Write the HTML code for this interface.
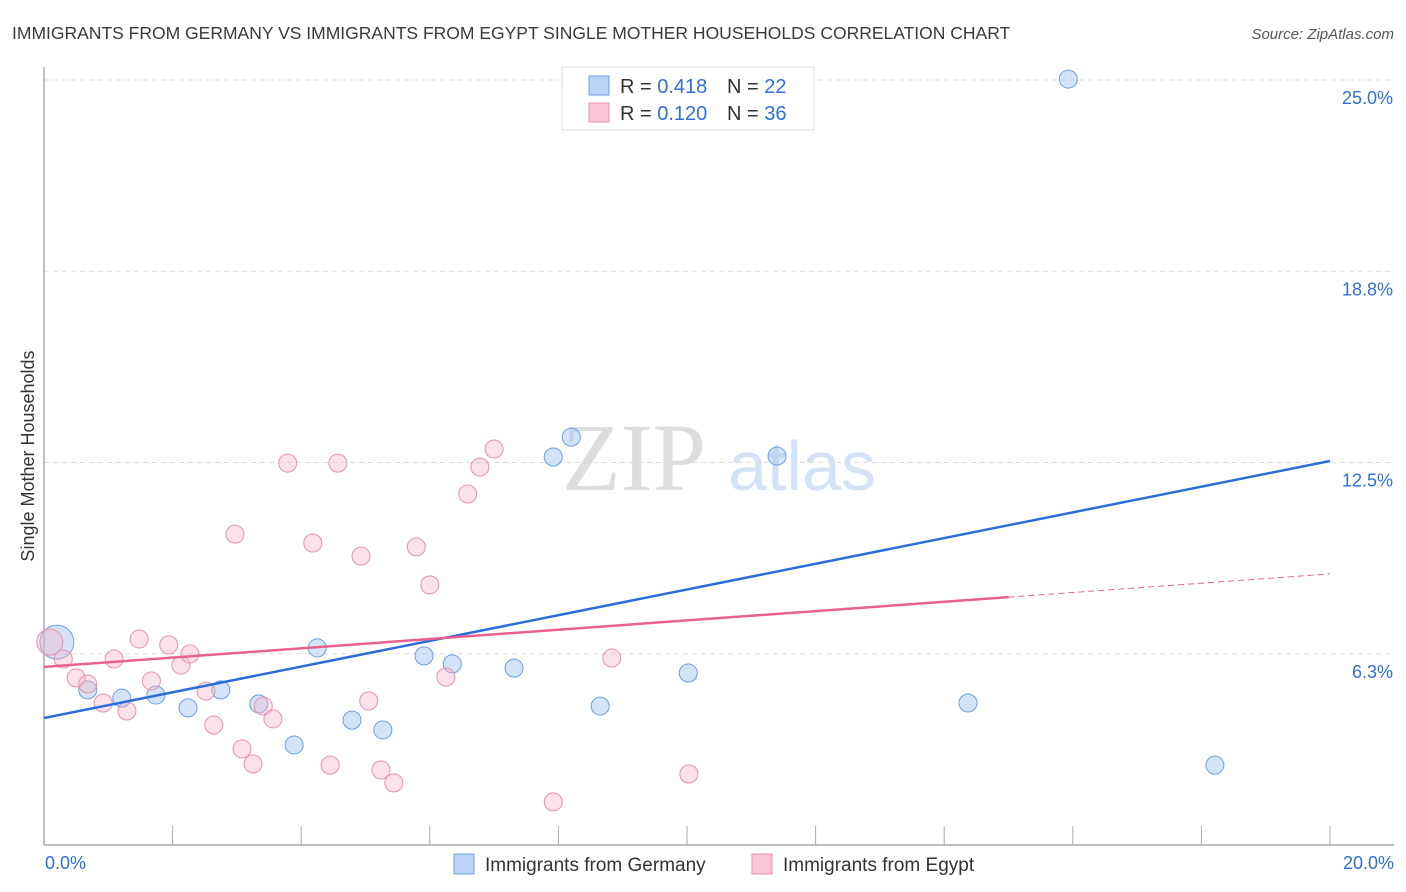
<!DOCTYPE html>
<html><head><meta charset="utf-8"><style>
body{margin:0;background:#fff;font-family:"Liberation Sans",sans-serif}
svg{display:block}
</style></head><body>
<svg id="c" width="1406" height="892" xmlns="http://www.w3.org/2000/svg">
<text x="12" y="39" font-size="17.5" fill="#3a3a3a">IMMIGRANTS FROM GERMANY VS IMMIGRANTS FROM EGYPT SINGLE MOTHER HOUSEHOLDS CORRELATION CHART</text>
<text x="1394" y="39" font-size="15" fill="#555" font-style="italic" text-anchor="end">Source: ZipAtlas.com</text>
<text x="634" y="490" font-size="96" fill="#ddd" font-family="Liberation Serif,serif" text-anchor="middle">ZIP</text>
<text x="802" y="490" font-size="70" fill="#d3e3f5" text-anchor="middle">atlas</text>
<g id="grid"></g>
<g id="axes"></g>
<g id="pts"></g>
<g id="lines"></g>
<text transform="translate(34,456) rotate(-90)" font-size="18" fill="#333" text-anchor="middle">Single Mother Households</text>
<g>
<rect x="562" y="67" width="252" height="63" fill="#fff" stroke="#ddd"/>
<rect x="589" y="76" width="20" height="19" fill="#bcd4f4" stroke="#6d9ee0"/>
<rect x="589" y="103" width="20" height="19" fill="#f9c6d5" stroke="#e891ad"/>
<text x="620" y="93" font-size="20" fill="#333">R = <tspan fill="#2f6fd6">0.418</tspan><tspan x="727">N = </tspan><tspan fill="#2f6fd6">22</tspan></text>
<text x="620" y="120" font-size="20" fill="#333">R = <tspan fill="#2f6fd6">0.120</tspan><tspan x="727">N = </tspan><tspan fill="#2f6fd6">36</tspan></text>
</g>
<g>
<rect x="454" y="854" width="20" height="20" fill="#bcd4f4" stroke="#6d9ee0"/>
<text x="485" y="871" font-size="19" fill="#333">Immigrants from Germany</text>
<rect x="752" y="854" width="20" height="20" fill="#f9c6d5" stroke="#e891ad"/>
<text x="783" y="871" font-size="19" fill="#333">Immigrants from Egypt</text>
</g>
</svg>
<script>
const yTicks=[6.25,12.5,18.75,25];
const yTickLabels=["6.3%","12.5%","18.8%","25.0%"];
const xTickVals=[0,2,4,6,8,10,12,14,16,18,20];
const germanyX=[0.2,0.68,1.21,1.74,2.24,2.75,3.34,3.89,4.25,4.79,5.27,5.91,6.35,7.31,7.92,8.2,8.65,10.02,11.4,14.37,15.93,18.21];
const germanyY=[6.63,5.07,4.8,4.9,4.48,5.07,4.61,3.27,6.44,4.08,3.76,6.18,5.92,5.78,12.68,13.33,4.54,5.62,12.71,4.64,25.03,2.61];
const egyptX=[0.09,0.3,0.5,0.68,0.92,1.09,1.29,1.48,1.67,1.94,2.13,2.27,2.52,2.64,2.97,3.08,3.25,3.41,3.56,3.79,4.18,4.45,4.57,4.93,5.05,5.24,5.44,5.79,6.0,6.25,6.59,6.78,7.0,7.92,8.83,10.03];
const egyptY=[6.63,6.08,5.46,5.26,4.64,6.08,4.38,6.73,5.36,6.54,5.88,6.24,5.03,3.92,10.16,3.14,2.65,4.54,4.12,12.48,9.87,2.61,12.48,9.44,4.71,2.45,2.03,9.74,8.5,5.49,11.47,12.35,12.94,1.41,6.11,2.32];
const germanyTrend=[4.15,12.55];
const egyptTrend=[5.82,8.86];
const egyptSolidEnd=15;
const NS="http://www.w3.org/2000/svg";
const X=v=>44+v*64.3, Y=v=>845-v*30.6;
function mk(t,a,p){const e=document.createElementNS(NS,t);for(const k in a)e.setAttribute(k,a[k]);document.getElementById(p).appendChild(e);return e;}
yTicks.forEach((v,i)=>{
 const l=mk('line',{x1:44,x2:1394,y1:Y(v),y2:Y(v),stroke:'#ddd','stroke-dasharray':'5,4'},'grid');
 
 
 const t=mk('text',{x:1393,y:Y(v)+24,'font-size':18,fill:'#2f6fd6','text-anchor':'end'},'grid');t.textContent=yTickLabels[i];
 
 
});
let a=mk('line',{x1:44,x2:44,y1:67,y2:845,stroke:'#aaa','stroke-width':1.5},'axes');


a=mk('line',{x1:44,x2:1394,y1:845,y2:845,stroke:'#aaa','stroke-width':1.5},'axes');


xTickVals.forEach(v=>{if(v===0)return;const t=mk('line',{x1:X(v),x2:X(v),y1:826,y2:845,stroke:'#aaa'},'axes');
 
 });
let t=mk('text',{x:45,y:869,'font-size':18,fill:'#2f6fd6'},'axes');t.textContent='0.0%';


t=mk('text',{x:1394,y:869,'font-size':18,fill:'#2f6fd6','text-anchor':'end'},'axes');t.textContent='20.0%';


germanyX.forEach((x,i)=>{const c=mk('circle',{cx:X(x),cy:Y(germanyY[i]),r:i===0?17:9,fill:'rgba(160,195,240,0.45)',stroke:'#6d9ee0','stroke-width':1},'pts');
 
 });
egyptX.forEach((x,i)=>{const c=mk('circle',{cx:X(x),cy:Y(egyptY[i]),r:i===0?13:9,fill:'rgba(246,180,200,0.4)',stroke:'#e891ad','stroke-width':1},'pts');
 
 });
let l=mk('line',{x1:X(0),y1:Y(germanyTrend[0]),x2:X(20),y2:Y(germanyTrend[1]),stroke:'#2b6fd6','stroke-width':2.5},'lines');


const ey=v=>egyptTrend[0]+(egyptTrend[1]-egyptTrend[0])*v/20;
l=mk('line',{x1:X(0),y1:Y(egyptTrend[0]),x2:X(egyptSolidEnd),y2:Y(ey(egyptSolidEnd)),stroke:'#e8628f','stroke-width':2.5},'lines');


l=mk('line',{x1:X(egyptSolidEnd),y1:Y(ey(egyptSolidEnd)),x2:X(20),y2:Y(egyptTrend[1]),stroke:'#e8628f','stroke-width':1,'stroke-dasharray':'6,4'},'lines');


</script>
</body></html>
